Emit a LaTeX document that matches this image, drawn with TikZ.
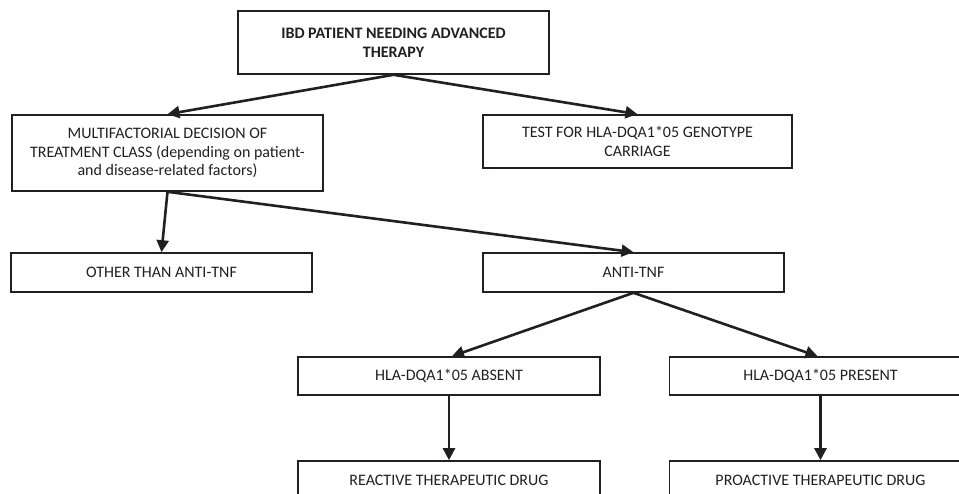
\documentclass[tikz,border=0pt]{standalone}
\usepackage{fontspec}
\setmainfont{Carlito}
\usetikzlibrary{arrows.meta}
\definecolor{ink}{HTML}{231F20}
\begin{document}
\begin{tikzpicture}[x=1pt,y=-1pt,
  box/.style={draw=ink,line width=1.6pt,text=ink,align=center,inner sep=0pt,
    font=\fontsize{16}{18.8}\selectfont},
  conn/.style={draw=ink,line width=2.6pt,-{Triangle[length=12pt,width=12pt]}}]
\useasboundingbox (0,0) rectangle (959,494);
\clip (0,0) rectangle (959,494);
\node[box,minimum width=311pt,minimum height=63pt,font=\fontsize{16}{18.8}\selectfont\bfseries] (top) at (393.5,42.5) {IBD PATIENT NEEDING ADVANCED\\THERAPY};
\node[box,minimum width=311pt,minimum height=76pt] (multi) at (167.5,153) {MULTIFACTORIAL DECISION OF\\TREATMENT CLASS (depending on patient-\\and disease-related factors)};
\node[box,minimum width=309pt,minimum height=53pt] (test) at (637.5,141.5) {TEST FOR HLA-DQA1*05 GENOTYPE\\CARRIAGE};
\node[box,minimum width=301pt,minimum height=39pt] (other) at (161.5,272.5) {OTHER THAN ANTI-TNF};
\node[box,minimum width=301pt,minimum height=39pt] (anti) at (633.5,272.5) {ANTI-TNF};
\node[box,minimum width=302pt,minimum height=38pt] (absent) at (449,376) {HLA-DQA1*05 ABSENT};
\node[box,minimum width=302pt,minimum height=38pt] (present) at (820.5,376) {HLA-DQA1*05 PRESENT};
\node[box,minimum width=302pt,minimum height=38pt] (reactive) at (449,480) {REACTIVE THERAPEUTIC DRUG};
\node[box,minimum width=302pt,minimum height=38pt] (proactive) at (820.5,480) {PROACTIVE THERAPEUTIC DRUG};
\draw[conn] (top.south) -- (multi.north);
\draw[conn] (top.south) -- (test.north);
\draw[conn] (multi.south) -- (other.north);
\draw[conn] (multi.south) -- (anti.north);
\draw[conn] (anti.south) -- ([xshift=3pt]absent.north);
\draw[conn] (anti.south) -- ([xshift=-3pt]present.north);
\draw[conn] (absent.south) -- (reactive.north);
\draw[conn] (present.south) -- (proactive.north);
\end{tikzpicture}
\end{document}
